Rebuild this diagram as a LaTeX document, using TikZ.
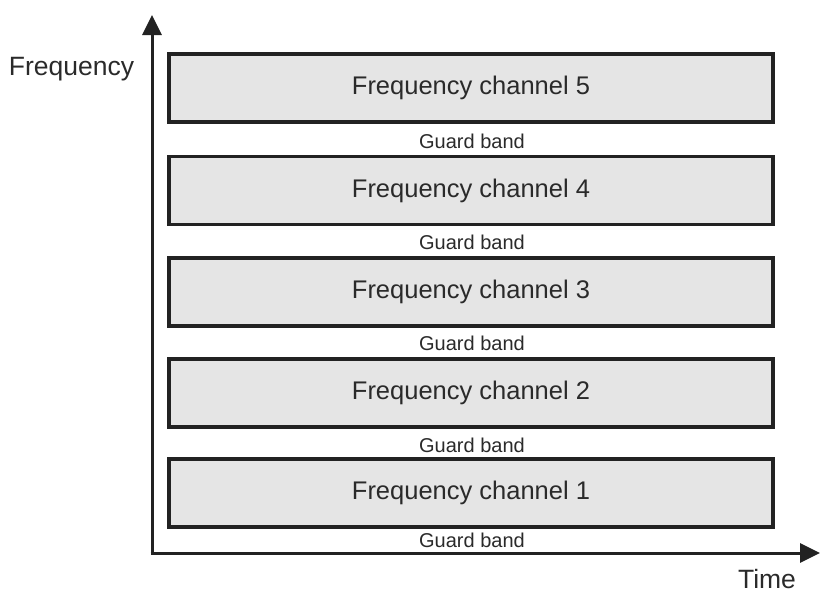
\documentclass[tikz,border=0pt]{standalone}
\usepackage{fontspec}
\setmainfont{Liberation Sans}
\usetikzlibrary{arrows.meta}
\definecolor{boxfill}{HTML}{E5E5E5}
\definecolor{ink}{HTML}{222222}
\definecolor{txt}{HTML}{2A2A2A}
\tikzset{
  chanbox/.style={draw=ink, fill=boxfill, line width=3.2pt, minimum width=604pt, minimum height=68pt, inner sep=0pt, text=txt, font=\fontsize{25.5}{28}\selectfont},
  guardlbl/.style={text=txt, inner sep=0pt, font=\fontsize{20}{22}\selectfont},
  axislbl/.style={text=txt, inner sep=0pt, anchor=base, font=\fontsize{26.5}{30}\selectfont},
  axisline/.style={draw=ink, line width=3pt, -{Triangle[length=20pt,width=19pt]}}
}
\begin{document}
\begin{tikzpicture}[x=1pt,y=-1pt]
\useasboundingbox (0,0) rectangle (820,592);
\coordinate (O) at (152,553);
\coordinate (ytop) at (152,15);
\coordinate (xend) at (820,553);
\node[chanbox] (c5) at (471,88) {Frequency channel 5};
\node[chanbox] (c4) at (471,190.5) {Frequency channel 4};
\node[chanbox] (c3) at (471,292) {Frequency channel 3};
\node[chanbox] (c2) at (471,393) {Frequency channel 2};
\node[chanbox] (c1) at (471,493) {Frequency channel 1};
\node[guardlbl] (g5) at (472,141) {Guard band};
\node[guardlbl] (g4) at (472,242) {Guard band};
\node[guardlbl] (g3) at (472,343) {Guard band};
\node[guardlbl] (g2) at (472,445) {Guard band};
\node[guardlbl] (g1) at (472,540.5) {Guard band};
\node[axislbl] (flbl) at (71.5,75) {Frequency};
\node[axislbl] (tlbl) at (767,588) {Time};
\draw[axisline] ([yshift=-1.5pt]O) -- (ytop);
\draw[axisline] ([xshift=-1.5pt]O) -- (xend);
\end{tikzpicture}
\end{document}
